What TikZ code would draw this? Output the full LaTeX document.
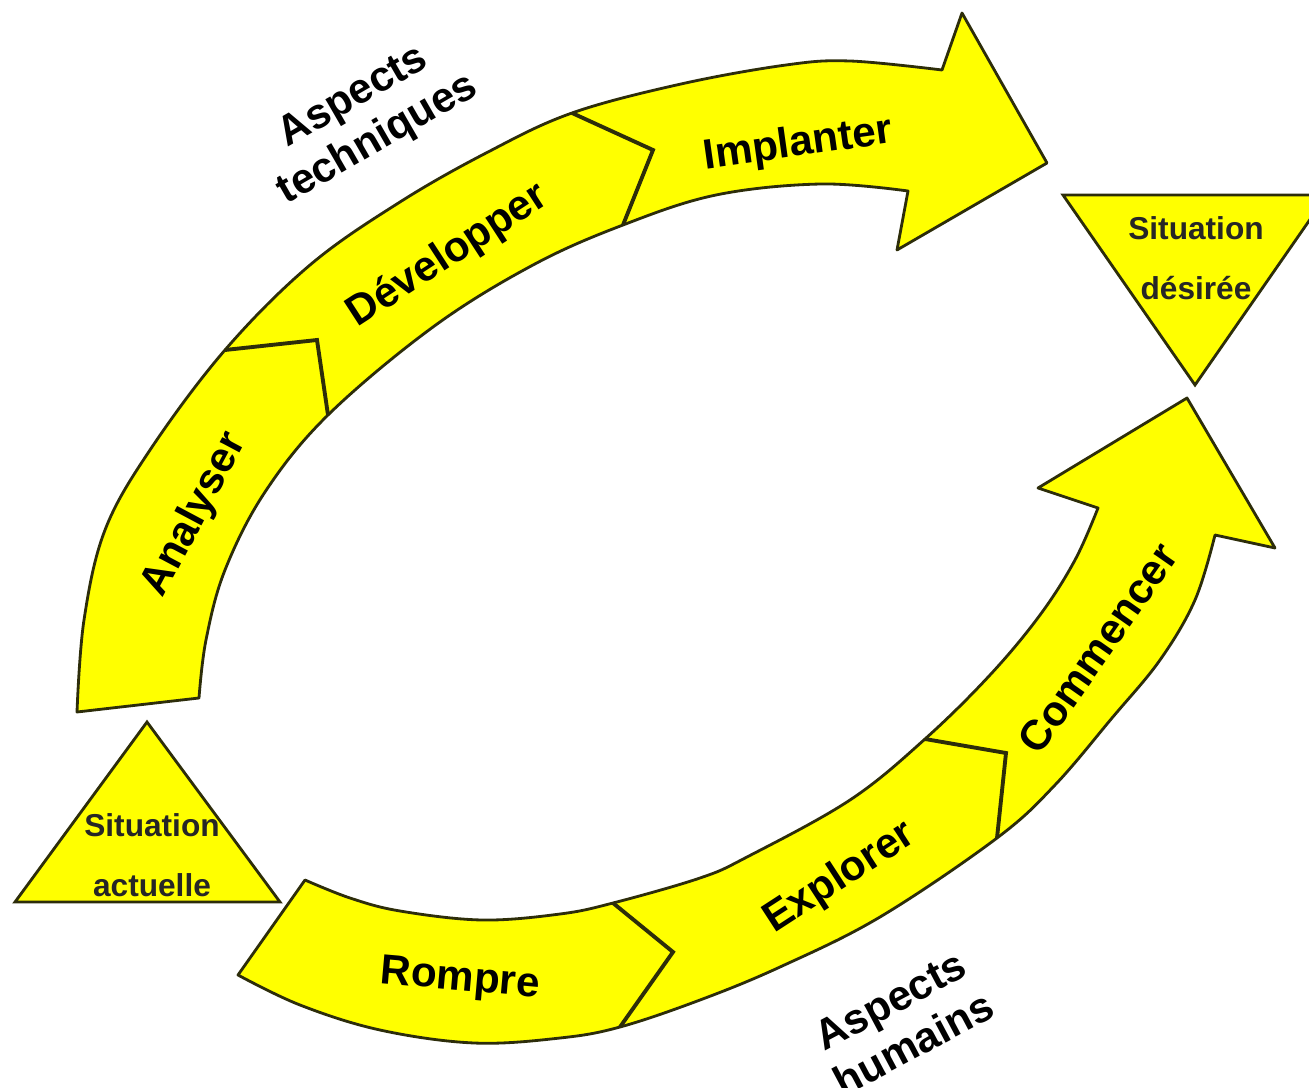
\documentclass[tikz,border=0pt]{standalone}
\usepackage{fontspec}
\setmainfont{Liberation Sans}
\definecolor{fillyel}{RGB}{255,255,0}
\definecolor{edge}{RGB}{45,45,10}
\begin{document}
\begin{tikzpicture}[x=0.01cm,y=-0.01cm,
  band/.style={fill=fillyel, draw=edge, line width=0.8pt, line join=round},
  tri/.style={fill=fillyel, draw=edge, line width=0.8pt, line join=miter},
  divider/.style={draw=edge, line width=1.1pt, line join=miter},
  lbl/.style={font=\fontsize{12}{14}\selectfont\bfseries, text=black, inner sep=0pt},
  sit/.style={font=\fontsize{9}{17}\selectfont\bfseries, text=black!85, align=center, inner sep=0pt},
  ]
\useasboundingbox (0,0) rectangle (1309,1088);
\clip (0,0) rectangle (1309,1088);

% upper arrow (technical aspects)
\path[band] plot[smooth,tension=0.6] coordinates {(77,712) (84,620) (105,530) (150,450) (225,350) (310,265) (400,202) (488,152) (572,113) (681,84) (786,65) (850,61) (942,70)}
  -- (962,13) -- (1047,163) -- (897,250)
  -- plot[smooth,tension=0.6] coordinates {(908,191) (821,184) (716,195) (623,225) (533,265) (433,327) (328,415) (265,492) (225,570) (206,640) (199,698)}
  -- cycle;
\draw[divider] (225,350) -- (317,340) -- (328,415);
\draw[divider] (572,113) -- (653,150) -- (623,225);

% lower arrow (human aspects)
\path[band] (238,975)
  -- plot[smooth,tension=0.6] coordinates {(305,880) (350,898) (400,911) (482,920) (560,914) (613,903) (700,878) (747,857) (850,800) (925,739) (990,675) (1040,615) (1075,560) (1098,508)}
  -- (1038,488) -- (1187,398) -- (1275,548)
  -- plot[smooth,tension=0.6] coordinates {(1215,535) (1195,600) (1160,660) (1112,718) (1055,785) (997,838) (880,917) (780,967) (700,1000) (620,1027) (560,1038) (474,1043) (380,1030) (300,1005) (238,975)}
  -- cycle;
\draw[divider] (613,903) -- (673,952) -- (620,1027);
\draw[divider] (925,739) -- (1006,753) -- (997,838);

% triangles
\path[tri] (147,722) -- (280,902) -- (15,902) -- cycle;
\path[tri] (1063,195) -- (1327,195) -- (1195,385) -- cycle;

% labels
\node[lbl, rotate=62] (analyser) at (195,515) {Analyser};
\node[lbl, rotate=33] (developper) at (448,256) {Développer};
\node[lbl, rotate=8] (implanter) at (798,145) {Implanter};
\node[lbl, rotate=-5] (rompre) at (460,980) {Rompre};
\node[lbl, rotate=33] (explorer) at (840,878) {Explorer};
\node[lbl, rotate=55] (commencer) at (1098,648) {Commencer};
\node[lbl, align=center, rotate=30] (techn) at (366,119) {Aspects\\techniques};
\node[lbl, align=center, rotate=28] (hum) at (902,1022) {Aspects\\humains};
\node[sit] (actuelle) at (152,855) {Situation\\actuelle};
\node[sit] (desiree) at (1196,258) {Situation\\désirée};
\end{tikzpicture}
\end{document}
